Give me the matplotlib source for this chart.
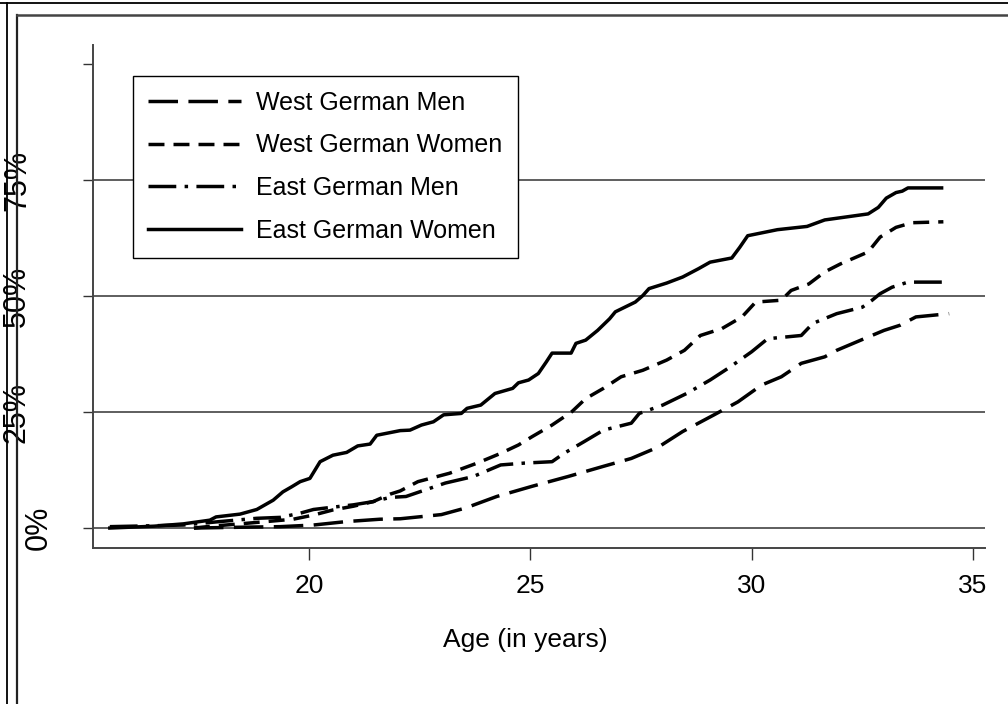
import matplotlib
matplotlib.use("Agg")
import matplotlib.pyplot as plt
from matplotlib.lines import Line2D
from matplotlib.transforms import blended_transform_factory

plt.rcParams['font.family'] = ['Liberation Sans', 'DejaVu Sans']

# ---------------- data (age in years, cumulative share in %) ----------------
wgm_age = [17.4, 18.6, 19.35, 20.1, 20.85, 21.6, 22.06, 22.99, 23.53, 24.24, 25.04, 25.85,
           26.65, 27.28, 27.9, 28.44, 29.15, 29.69, 30.22, 30.67, 31.12, 31.65, 31.92,
           32.54, 32.99, 33.35, 33.71, 34.46]
wgm_pct = [0, 0.2, 0.3, 0.65, 1.4, 1.9, 2.0, 2.9, 4.3, 6.8, 9.0, 11.1,
           13.3, 15.0, 17.5, 20.8, 24.4, 27.2, 30.8, 32.6, 35.5, 36.9, 38.3,
           40.8, 42.6, 43.7, 45.5, 46.2]

wgw_age = [17.4, 17.8, 18.44, 19.04, 19.64, 20.1, 20.54, 21.0, 21.45, 21.83, 22.06, 22.46,
           23.17, 23.8, 24.33, 24.73, 25.04, 25.49, 25.94, 26.25, 26.65, 27.05, 27.54,
           28.08, 28.48, 28.84, 29.33, 29.78, 30.09, 30.67, 30.89, 31.29, 31.65, 32.0,
           32.63, 32.9, 33.26, 33.62, 34.33]
wgw_pct = [0, 0.4, 0.9, 1.4, 1.9, 2.8, 3.9, 4.7, 5.7, 7.3, 8.0, 10.0,
           11.8, 14.0, 16.1, 17.9, 19.7, 22.2, 25.1, 27.9, 30.1, 32.6, 34.0,
           36.2, 38.3, 41.5, 43.0, 45.5, 48.7, 49.1, 51.2, 52.6, 55.2, 56.9,
           59.5, 62.7, 64.8, 65.8, 66.0]

egm_age = [15.5, 16.5, 17.16, 17.99, 18.82, 19.35, 19.8, 20.1, 20.54, 21.0, 21.45, 21.83,
           22.19, 23.08, 23.71, 24.33, 24.87, 25.49, 25.76, 26.21, 26.65, 27.28, 27.46,
           27.99, 28.53, 29.06, 29.51, 30.0, 30.36, 31.12, 31.38, 31.92, 32.5, 32.72,
           32.9, 33.17, 33.53, 34.38]
egm_pct = [0.3, 0.5, 0.65, 1.4, 2.1, 2.3, 3.2, 4.0, 4.5, 5.0, 5.7, 6.6,
           6.8, 9.7, 11.1, 13.6, 14.0, 14.3, 16.1, 18.6, 21.1, 22.6, 24.7,
           26.5, 29.0, 31.9, 34.7, 38.0, 40.8, 41.5, 44.1, 46.2, 47.6, 49.1,
           50.5, 51.9, 53.0, 53.0]

egw_age = [15.5, 16.5, 17.16, 17.76, 17.9, 18.44, 18.82, 19.19, 19.41, 19.61, 19.8, 20.02,
           20.25, 20.54, 20.85, 21.1, 21.38, 21.53, 22.06, 22.28, 22.54, 22.81, 23.04,
           23.44, 23.57, 23.88, 24.2, 24.6, 24.73, 24.96, 25.18, 25.36, 25.49, 25.92,
           26.03, 26.25, 26.52, 26.79, 26.92, 27.37, 27.54, 27.68, 28.08, 28.44, 28.8,
           29.06, 29.55, 29.73, 29.91, 30.58, 31.25, 31.65, 32.63, 32.86, 33.04, 33.26,
           33.4, 33.53, 34.29]
egw_pct = [0, 0.4, 0.9, 1.7, 2.4, 3.0, 4.0, 6.0, 7.8, 8.9, 10.0, 10.7,
           14.3, 15.7, 16.3, 17.7, 18.1, 20.0, 21.0, 21.1, 22.2, 22.9, 24.4,
           24.7, 25.8, 26.5, 29.0, 30.1, 31.3, 31.9, 33.3, 35.8, 37.7, 37.7,
           39.8, 40.5, 42.6, 45.1, 46.6, 48.7, 50.1, 51.6, 52.8, 54.1, 55.9,
           57.3, 58.2, 60.5, 63.0, 64.3, 65.0, 66.4, 67.7, 69.1, 71.1, 72.3,
           72.6, 73.3, 73.3]

series_labels = ["West German Men", "West German Women", "East German Men", "East German Women"]
x_ticks = [20, 25, 30, 35]
y_ticks = [0, 25, 50, 75, 100]
y_tick_labels = ["0%", "25%", "50%", "75%", ""]
x_label = "Age (in years)"

# ---------------- figure ----------------
W, H = 1008, 704
fig = plt.figure(figsize=(W / 100, H / 100), dpi=100)
ax_l, ax_r, ax_b, ax_t = 93, 985, 548, 45   # pixel edges of the plot region
ax = fig.add_axes([ax_l / W, (H - ax_b) / H, (ax_r - ax_l) / W, (ax_b - ax_t) / H])

lw = 2.5
styles = [
    dict(linestyle=(0, (8.5, 3.0))),
    dict(linestyle=(0, (4.6, 2.6))),
    dict(linestyle=(0, (8.0, 2.4, 1.0, 2.4))),
    dict(linestyle='-'),
]
series = [(wgm_age, wgm_pct), (wgw_age, wgw_pct), (egm_age, egm_pct), (egw_age, egw_pct)]
handles = []
for (xs, ys), lab, st in zip(series, series_labels, styles):
    h, = ax.plot(xs, ys, color='black', lw=lw, label=lab, zorder=3,
                 dash_capstyle='butt', solid_joinstyle='round', **st)
    handles.append(h)

ax.set_xlim(15.12, 35.27)
ax.set_ylim(-4.3, 104.1)

# grid lines at labelled y ticks
for v, lab in zip(y_ticks, y_tick_labels):
    if lab:
        ax.axhline(v, color='#333333', lw=1.1, zorder=1)

for s in ['top', 'right']:
    ax.spines[s].set_visible(False)
for s in ['left', 'bottom']:
    ax.spines[s].set_color('#444444')
    ax.spines[s].set_linewidth(1.4)

ax.set_xticks(x_ticks)
ax.set_xticklabels([str(t) for t in x_ticks], fontsize=19)
ax.set_yticks(y_ticks)
ax.set_yticklabels([])
ax.tick_params(axis='x', direction='out', length=8.6, width=1.0, colors='#333333',
               labelcolor='black', pad=10)
ax.tick_params(axis='y', direction='out', length=7.2, width=1.0, colors='#333333')

# rotated y labels placed at the image's left margin
trans = blended_transform_factory(fig.transFigure, ax.transData)
for v, lab in zip(y_ticks, y_tick_labels):
    if not lab:
        continue
    xpos = (39 if v == 0 else 17) / W
    ax.text(xpos, v, lab, transform=trans, rotation=90, ha='center', va='center',
            fontsize=22, clip_on=False)

ax.set_xlabel(x_label, fontsize=19)
ax.xaxis.set_label_coords((525 - ax_l) / (ax_r - ax_l), -(628 - ax_b) / (ax_b - ax_t))

leg = ax.legend(handles=handles, loc='upper left',
                bbox_to_anchor=(133 / W, 1 - 76 / H), bbox_transform=fig.transFigure,
                fontsize=18, handlelength=3.7, handletextpad=0.64, labelspacing=0.74,
                borderpad=0.6, borderaxespad=0, fancybox=False, framealpha=1,
                edgecolor='black')
leg.get_frame().set_linewidth(1.0)

# outer graph frame lines
fig.add_artist(Line2D([7 / W, 7 / W], [0, 1 - 3 / H], color='black', lw=1.3, transform=fig.transFigure))
fig.add_artist(Line2D([0, 1], [1 - 3 / H, 1 - 3 / H], color='black', lw=1.3, transform=fig.transFigure))
fig.add_artist(Line2D([17 / W, 17 / W], [0, 1 - 14.5 / H], color='#222222', lw=1.6, transform=fig.transFigure))
fig.add_artist(Line2D([17 / W, 1], [1 - 14.5 / H, 1 - 14.5 / H], color='#444444', lw=1.8, transform=fig.transFigure))

fig.savefig('out.png', dpi=100)
